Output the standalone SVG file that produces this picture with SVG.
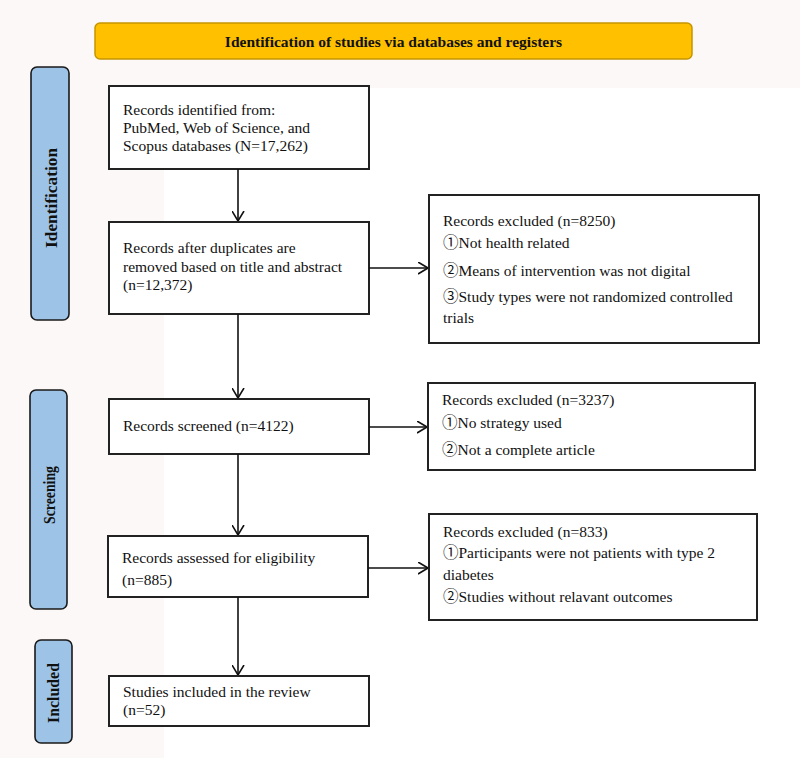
<svg xmlns="http://www.w3.org/2000/svg" width="800" height="758" viewBox="0 0 800 758">
<style>
.t{font-family:"Liberation Serif","Times New Roman","Noto Sans CJK SC",serif;font-size:15.5px;fill:#111}
.side{fill:#9dc3e6;stroke:#1a1a1a;stroke-width:1.6}
.st{font-family:"Liberation Serif","Times New Roman",serif;font-weight:bold;font-size:17px;fill:#111}
.box{fill:#fff;stroke:#222;stroke-width:2}
.ln{stroke:#111;stroke-width:1.6;fill:none;marker-end:url(#ah)}
</style>
<defs>
<marker id="ah" viewBox="0 0 10 13" refX="10" refY="6.5" markerWidth="10" markerHeight="13" markerUnits="userSpaceOnUse" orient="auto">
<path d="M0,0.5 L10,6.5 L0,12.5" fill="none" stroke="#111" stroke-width="1.6"/>
</marker>
</defs>
<rect width="800" height="758" fill="#fff"/>
<rect x="0" y="0" width="800" height="88" fill="#fcf8f7"/>
<rect x="0" y="0" width="164" height="758" fill="#fcf8f7"/>

<g id="banner">
<rect x="95" y="23" width="597" height="36" rx="5" fill="#ffc000" stroke="#c59500" stroke-width="1.5"/>
<text x="393.5" y="47" text-anchor="middle" class="st" style="font-size:15.5px">Identification of studies via databases and registers</text>
</g>

<g id="side-identification">
<rect x="31" y="67" width="38" height="253" rx="6" class="side"/>
<text class="st" transform="translate(57,198) rotate(-90)" text-anchor="middle" textLength="100" lengthAdjust="spacingAndGlyphs">Identification</text>
</g>
<g id="side-screening">
<rect x="30" y="390" width="37" height="219" rx="6" class="side"/>
<text class="st" transform="translate(55,495) rotate(-90)" text-anchor="middle" textLength="58" lengthAdjust="spacingAndGlyphs">Screening</text>
</g>
<g id="side-included">
<rect x="35" y="640" width="37" height="103" rx="6" class="side"/>
<text class="st" transform="translate(59,693) rotate(-90)" text-anchor="middle" textLength="60" lengthAdjust="spacingAndGlyphs">Included</text>
</g>

<g id="identified">
<rect x="109" y="86" width="260" height="83" class="box"/>
<text class="t" x="123" y="115">Records identified from:</text>
<text class="t" x="123" y="133">PubMed, Web of Science, and</text>
<text class="t" x="123" y="151">Scopus databases (N=17,262)</text>
</g>

<g id="dedup">
<rect x="109" y="222" width="260" height="92" class="box"/>
<text class="t" x="123" y="253">Records after duplicates are</text>
<text class="t" x="123" y="272">removed based on title and abstract</text>
<text class="t" x="123" y="290">(n=12,372)</text>
</g>

<g id="excluded1">
<rect x="429" y="195" width="330" height="148" class="box"/>
<text class="t" x="443" y="226">Records excluded (n=8250)</text>
<text class="t" x="443" y="248">①Not health related</text>
<text class="t" x="443" y="276">②Means of intervention was not digital</text>
<text class="t" x="443" y="302">③Study types were not randomized controlled</text>
<text class="t" x="443" y="323">trials</text>
</g>

<g id="screened">
<rect x="109" y="399" width="260" height="55" class="box"/>
<text class="t" x="123" y="431">Records screened (n=4122)</text>
</g>

<g id="excluded2">
<rect x="428" y="383" width="327" height="87" class="box"/>
<text class="t" x="442" y="405">Records excluded (n=3237)</text>
<text class="t" x="442" y="428">①No strategy used</text>
<text class="t" x="442" y="455">②Not a complete article</text>
</g>

<g id="assessed">
<rect x="108" y="536" width="260" height="61" class="box"/>
<text class="t" x="122" y="563">Records assessed for eligibility</text>
<text class="t" x="122" y="585">(n=885)</text>
</g>

<g id="excluded3">
<rect x="429" y="514" width="328" height="106" class="box"/>
<text class="t" x="443" y="537">Records excluded (n=833)</text>
<text class="t" x="443" y="558">①Participants were not patients with type 2</text>
<text class="t" x="443" y="580">diabetes</text>
<text class="t" x="443" y="602">②Studies without relavant outcomes</text>
</g>

<g id="included">
<rect x="109" y="676" width="260" height="50" class="box"/>
<text class="t" x="123" y="697">Studies included in the review</text>
<text class="t" x="123" y="715">(n=52)</text>
</g>

<g id="connectors">
<line class="ln" x1="238" y1="169" x2="238" y2="221"/>
<line class="ln" x1="238" y1="314" x2="238" y2="398"/>
<line class="ln" x1="238" y1="454" x2="238" y2="535"/>
<line class="ln" x1="238" y1="597" x2="238" y2="675"/>
<line class="ln" x1="369" y1="268" x2="428" y2="268"/>
<line class="ln" x1="369" y1="427" x2="427" y2="427"/>
<line class="ln" x1="368" y1="568" x2="428" y2="568"/>
</g>
</svg>
